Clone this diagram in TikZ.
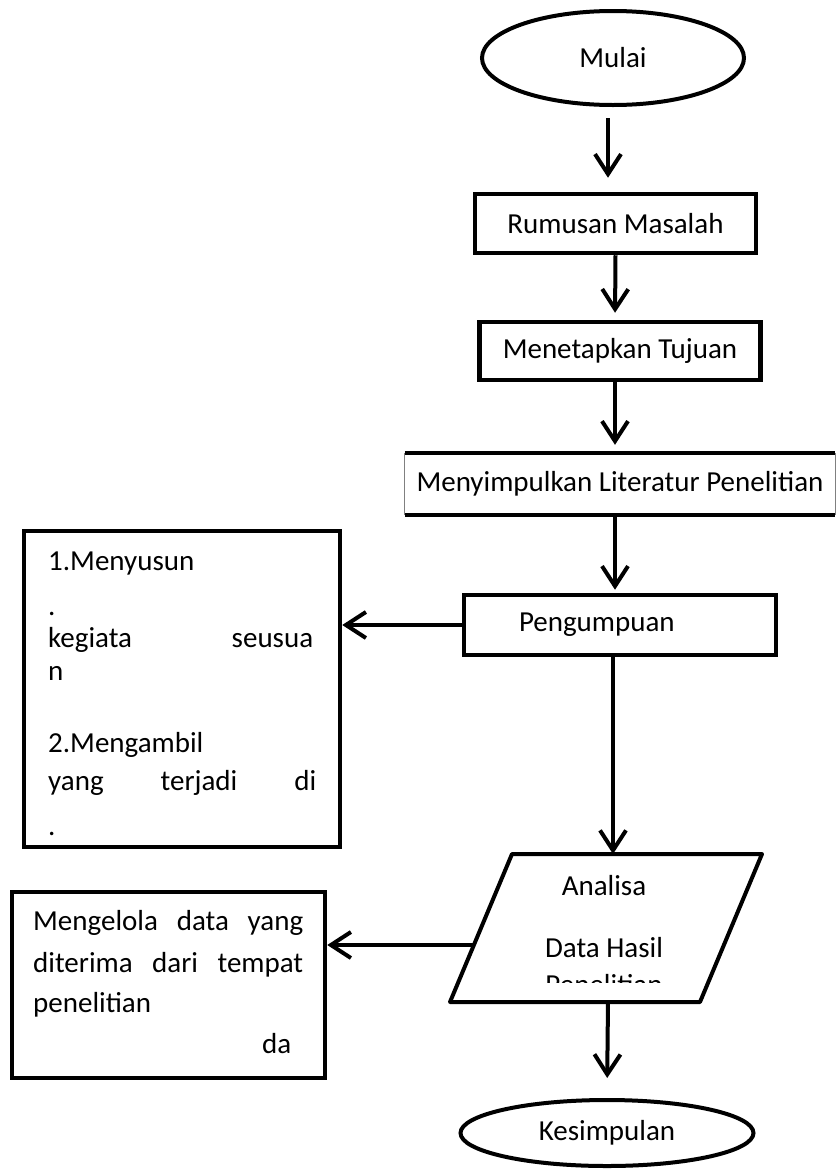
\documentclass[tikz,border=0pt]{standalone}
\usepackage{fontspec}
\setmainfont{Carlito}
\usetikzlibrary{arrows.meta,shapes.geometric}
\begin{document}
\begin{tikzpicture}[x=1pt,y=-1pt,
  every node/.style={font=\fontsize{29}{35}\selectfont},
  term/.style={draw,ellipse,line width=4pt,inner sep=0pt},
  procbox/.style={draw,rectangle,line width=4.5pt,inner sep=0pt},
  txt/.style={inner sep=0pt},
  arr/.style={line width=4pt,-{Straight Barb[length=20pt,width=26pt,line width=4pt]}}]
\useasboundingbox (0,0) rectangle (839,1173);
% start
\node[term,minimum width=262pt,minimum height=94pt] (mulai) at (613,58) {Mulai};
\node[procbox,minimum width=281pt,minimum height=59pt] (rumus) at (615.5,223.5) {Rumusan Masalah};
\node[procbox,minimum width=281pt,minimum height=58pt] (tujuan) at (620,351) {Menetapkan Tujuan};
% summarising box: thick top/bottom, thin sides
\node[txt,minimum width=430pt,minimum height=62pt] (simpul) at (620,484) {Menyimpulkan Literatur Penelitian};
\draw[line width=4.5pt] (simpul.north west) -- (simpul.north east);
\draw[line width=4.5pt] (simpul.south west) -- (simpul.south east);
\draw[line width=0.8pt,gray] (simpul.north west) -- (simpul.south west);
\draw[line width=0.8pt,gray] (simpul.north east) -- (simpul.south east);
% collection box
\node[procbox,minimum width=312pt,minimum height=60pt,text width=312pt,align=left] (kumpul) at (620,625) {\hspace*{55pt}Pengumpuan};
% left box 1
\node[procbox,minimum width=316pt,minimum height=316pt] (box1) at (182,689) {};
\node[txt,anchor=base west] (b1a) at (48,570) {1.Menyusun};
\node[txt,anchor=base west] (b1b) at (48,615) {.};
\node[txt,anchor=base west] (b1c) at (48,647) {\hbox to 265pt{kegiata\hfill seusua}};
\node[txt,anchor=base west] (b1d) at (48,680) {n};
\node[txt,anchor=base west] (b1e) at (48,752) {2.Mengambil};
\node[txt,anchor=base west] (b1f) at (48,790) {\hbox to 268pt{yang\hfill terjadi\hfill di}};
\node[txt,anchor=base west] (b1g) at (48,835) {.};
% parallelogram
\coordinate (ptl) at (512,854);
\coordinate (ptr) at (762,854);
\coordinate (pbr) at (700,1002);
\coordinate (pbl) at (450,1002);
\draw[line width=4pt,line join=round] (ptl) -- (ptr) -- (pbr) -- (pbl) -- cycle;
\coordinate (ptop) at (613,854);
\coordinate (pleft) at (474,945);
\coordinate (pbot) at (608,1002);
\node[txt,anchor=base] (an1) at (604,895) {Analisa};
\node[txt,anchor=base] (an2) at (604,957) {Data Hasil};
\begin{scope}
\clip (440,965) rectangle (780,982);
\node[txt,anchor=base] (an3) at (604,994) {Penelitian};
\end{scope}
% left box 2
\node[procbox,minimum width=313pt,minimum height=186pt] (box2) at (168.5,985) {};
\node[txt,anchor=base west] (b2a) at (33,930) {\hbox to 270pt{Mengelola\hfill data\hfill yang}};
\node[txt,anchor=base west] (b2b) at (33,972) {\hbox to 270pt{diterima\hfill dari\hfill tempat}};
\node[txt,anchor=base west] (b2c) at (33,1012) {penelitian};
\node[txt,anchor=base west] (b2d) at (262,1053) {da};
% end
\node[term,minimum width=293pt,minimum height=66pt] (kes) at (607,1133) {Kesimpulan};
% connectors
\draw[arr,shorten <=11pt,shorten >=14pt] ([xshift=-5pt]mulai.south) -- ([xshift=-7.5pt]rumus.north);
\draw[arr,shorten >=7pt] (rumus.south) -- ([xshift=-5pt]tujuan.north);
\draw[arr,shorten >=8pt] ([xshift=-5pt]tujuan.south) -- ([xshift=-5pt]simpul.north);
\draw[arr,shorten >=3pt] ([xshift=-5pt]simpul.south) -- ([xshift=-5pt]kumpul.north);
\draw[arr] (kumpul.west) -- (kumpul.west -| box1.east);
\draw[arr] ([xshift=-7pt]kumpul.south) -- (ptop);
\draw[arr] (pleft) -- (pleft -| box2.east);
\draw[arr,shorten >=20pt] (pbot) -- (kes.north);
\end{tikzpicture}
\end{document}
